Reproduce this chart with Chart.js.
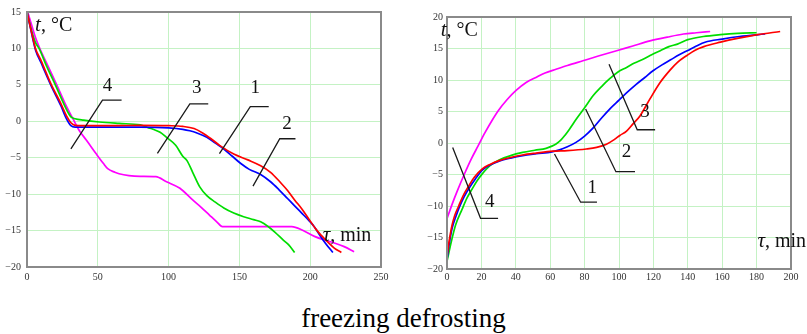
<!DOCTYPE html>
<html><head><meta charset="utf-8">
<script src="https://cdn.jsdelivr.net/npm/chart.js@4.4.0/dist/chart.umd.min.js"></script>
<style>
html,body{margin:0;padding:0;background:#fff;width:807px;height:334px;overflow:hidden;}
#c1{position:absolute;left:0;top:0;}
#c2{position:absolute;left:400px;top:0;}
#cap{position:absolute;left:0;top:302px;width:807px;text-align:center;font-family:"Liberation Serif","Times New Roman",serif;font-size:27px;line-height:32px;color:#000;}
</style></head><body>
<canvas id="c1" width="400" height="300"></canvas>
<canvas id="c2" width="407" height="300"></canvas>
<div id="cap">freezing defrosting</div>
<script>
// ---------- Freezing (left chart) ----------
const freezeTime1 = [0,3,6,10,17,24,28,31,34,40,60,80,100,110,118,124,130,136,146,156,165,172,179,184,189,194,199,204,208,212,217,222];
const freezeTemp1 = [15,12.4,10,8.3,5.1,2.4,0.7,-0.2,-0.55,-0.6,-0.6,-0.55,-0.6,-0.7,-1.0,-1.6,-2.4,-3.3,-4.5,-5.3,-6.1,-7.0,-8.4,-9.5,-10.8,-12.0,-13.4,-14.8,-15.7,-16.5,-17.4,-18.0];
const freezeTime2 = [0,3,6,10,17,24,28,31,34,50,80,100,110,115,120,127,133,139,145,151,157,165,172,178,184,189,194,199,203,207,211,216];
const freezeTemp2 = [15,12.3,9.8,8.0,4.9,2.1,0.3,-0.6,-0.8,-0.8,-0.8,-0.9,-1.1,-1.3,-1.6,-2.2,-3.0,-3.8,-4.8,-5.8,-6.6,-7.3,-8.3,-9.4,-10.6,-11.6,-12.6,-13.6,-14.5,-15.7,-16.8,-18.0];
const freezeTime3 = [0,3,6,8.5,14,20,26,29,31,34,40,51,65,80,86,89,94,98.5,105,110,113,117,122,127,133,139,146,153,160,165,170,175,181,185,189];
const freezeTemp3 = [15,12.6,10.8,10,7.5,5,2.4,1.2,0.6,0.35,0.15,-0.1,-0.3,-0.5,-0.9,-1.1,-1.5,-2.2,-3.3,-4.8,-5.4,-7.0,-9.0,-10.2,-11.1,-11.9,-12.6,-13.1,-13.5,-13.8,-14.4,-15.2,-16.3,-17.0,-18.0];
const freezeTime4 = [0.5,3,6,9,15,21,27,33.4,37,42,49,54,57,62,65,72,80,91,98.5,108,117,123,129,134,138,150,170,187,195,203,210,217,224,231];
const freezeTemp4 = [15,13.4,11.5,10,7.5,5,2.4,0,-1.3,-2.6,-4.5,-5.8,-6.5,-7.0,-7.2,-7.45,-7.55,-7.6,-8.3,-9.2,-10.8,-11.8,-12.9,-13.8,-14.45,-14.45,-14.45,-14.45,-15.0,-15.8,-16.3,-16.7,-17.2,-17.9];
const freezeXTicks = [0,50,100,150,200,250];
const freezeYTicks = [-20,-15,-10,-5,0,5,10,15];

// ---------- Defrosting (right chart) ----------
const thawTime1 = [0,1,2.9,4.5,6.8,9.5,12.7,16,20.5,25,30.3,37,43.9,52,61.5,70,81,87,92.7,97,100.5,104.4,108,112.2,118,123.9,129.8,134,139.5,144,149.3,159,168.8,180.5,193.7];
const thawTemp1 = [-18,-16,-13.1,-11.5,-10,-8.3,-6.8,-5.4,-4.1,-3.4,-2.8,-2.3,-1.9,-1.6,-1.3,-1.2,-0.95,-0.7,-0.2,0.5,1.2,1.9,3.0,4.3,7.0,9.6,11.6,12.8,13.9,14.7,15.3,16.0,16.6,17.2,17.7];
const thawTime2 = [0,1,3,5,7,10,13,16.5,20.5,25,30.3,37,44,52,61,65.4,70,75,80,85,90,95,100,105,110,115,120,125,130,135,140,145,150,160,170,185];
const thawTemp2 = [-18.5,-16.5,-13.5,-11.8,-10.3,-8.5,-7.1,-5.7,-4.3,-3.5,-2.9,-2.4,-2.0,-1.7,-1.4,-1.1,-0.6,0.1,1.1,2.4,4.0,5.5,6.8,8.1,9.3,10.4,11.5,12.4,13.2,14.0,14.7,15.4,16.0,16.5,16.9,17.3];
const thawTime3 = [0,1,2.9,5,8.8,11.5,14.6,17.5,20.5,25,30.3,37,44,51,57.6,61,63.4,66,68.5,71.2,75.2,80,84.9,90,94.6,99,104.4,109,114,119,124,129,134,140,149,159,169,180];
const thawTemp3 = [-18.8,-17.5,-15.2,-13,-10.5,-8.8,-7.3,-6.0,-4.9,-3.6,-2.7,-2.0,-1.5,-1.15,-0.85,-0.5,-0.16,0.4,1.2,2.2,3.8,5.6,7.5,9.0,10.2,11.2,12.0,12.7,13.3,14.0,14.65,15.3,15.7,16.4,16.9,17.2,17.4,17.5];
const thawTime4 = [0,3,6,10,14,18,22,26,30,35,40,46,51.7,57,63.4,70,79,88,98.6,108,118,128,137.5,145,153];
const thawTemp4 = [-12,-9.7,-7.6,-5.0,-2.6,-0.5,1.6,3.5,5.2,6.9,8.3,9.6,10.4,11.1,11.7,12.3,13.05,13.8,14.65,15.4,16.2,16.8,17.3,17.5,17.7];
const thawXTicks = [0,20,40,60,80,100,120,140,160,180,200];
const thawYTicks = [-20,-15,-10,-5,0,5,10,15,20];

const seriesColors = ['#ff0000','#0000ff','#00dd00','#ff00ff'];
const curveNames = ['1','2','3','4'];

// annotation leaders (in data units) for curve numbers
const freezeLabels = [
  {text:'4', at:[56.8,4.9], line:[[31,-3.8],[53.3,2.9],[66.8,2.9]]},
  {text:'3', at:[119.8,4.6], line:[[92.1,-4.4],[115,2.4],[128,2.4]]},
  {text:'1', at:[161.2,4.6], line:[[135.9,-4.45],[157.7,2.0],[170.7,2.0]]},
  {text:'2', at:[183.7,-0.35], line:[[159.6,-8.9],[178.5,-2.4],[189.6,-2.4]]}
];
const thawLabels = [
  {text:'3', at:[115.1,4.9], line:[[94.2,12.5],[110.6,2.1],[121,2.1]]},
  {text:'2', at:[104.4,-1.5], line:[[80.6,5.4],[98.2,-4.55],[109.3,-4.55]]},
  {text:'1', at:[84.5,-7.2], line:[[62.5,-1.75],[77.7,-9.4],[87.2,-9.4]]},
  {text:'4', at:[24.8,-9.3], line:[[3.3,-0.7],[19.5,-11.95],[29.7,-11.95]]}
];

const SERIF = '"Liberation Serif","Times New Roman",serif';

function pts(ts, vs){ return ts.map((t,i)=>({x:t,y:vs[i]})); }
function fmt(v){ return v<0 ? '\u2212'+Math.abs(v) : String(v); }

const decoPlugin = {
  id:'deco',
  afterDatasetsDraw(chart, args, o){
    const {ctx, chartArea:a} = chart;
    const xs = chart.scales.x, ys = chart.scales.y;
    const P = (p)=>[xs.getPixelForValue(p[0]), ys.getPixelForValue(p[1])];
    ctx.save();
    ctx.strokeStyle = '#8a8a8a'; ctx.lineWidth = 2;
    ctx.strokeRect(a.left, a.top, a.right-a.left, a.bottom-a.top);
    ctx.strokeStyle = '#1a1a1a'; ctx.lineWidth = 1.3; ctx.fillStyle = '#111';
    ctx.font = '19px '+SERIF; ctx.textAlign='center'; ctx.textBaseline='middle';
    o.labels.forEach(l=>{
      ctx.beginPath();
      l.line.forEach((p,i)=>{const q=P(p); i?ctx.lineTo(q[0],q[1]):ctx.moveTo(q[0],q[1]);});
      ctx.stroke();
      const q=P(l.at); ctx.fillText(l.text,q[0],q[1]);
    });
    // axis titles
    ctx.textAlign='left'; ctx.textBaseline='alphabetic';
    let q = P(o.yTitleAt);
    ctx.font = 'italic 21px '+SERIF; ctx.fillText('t', q[0], q[1]);
    let w = ctx.measureText('t').width;
    ctx.font = '20px '+SERIF; ctx.fillText(', \u00B0C', q[0]+w, q[1]);
    q = P(o.xTitleAt);
    ctx.font = 'italic 21px '+SERIF; ctx.fillText('\u03C4', q[0], q[1]);
    w = ctx.measureText('\u03C4').width;
    ctx.font = '20px '+SERIF; ctx.fillText(', min', q[0]+w, q[1]);
    ctx.restore();
  }
};

function makeChart(id, sets, xTicks, yTicks, geom, labels, yTitleAt, xTitleAt){
  const datasets = sets.map((s,i)=>({
    label: curveNames[i], data: pts(s[0], s[1]), borderColor: seriesColors[i],
    borderWidth: 1.7, pointRadius: 0, fill:false, cubicInterpolationMode:'monotone'
  }));
  const gridColor = '#c4f2c4';
  return new Chart(document.getElementById(id), {
    type:'line',
    data:{datasets},
    plugins:[decoPlugin],
    options:{
      responsive:false, animation:false, devicePixelRatio:1,
      layout:{padding:{top:geom.top,right:geom.right,left:0,bottom:0}},
      plugins:{legend:{display:false}, tooltip:{enabled:false}, deco:{labels, yTitleAt, xTitleAt}},
      scales:{
        x:{type:'linear', min:xTicks[0], max:xTicks[xTicks.length-1],
           afterBuildTicks:(sc)=>{sc.ticks = xTicks.map(v=>({value:v}));},
           afterFit:(sc)=>{sc.height = geom.xh;},
           grid:{color:gridColor, lineWidth:1, drawTicks:false},
           border:{display:false},
           ticks:{padding:geom.xpad, maxRotation:0, autoSkip:false, color:'#333', font:{family:SERIF,size:10}, callback:fmt}},
        y:{type:'linear', min:yTicks[0], max:yTicks[yTicks.length-1],
           afterBuildTicks:(sc)=>{sc.ticks = yTicks.map(v=>({value:v}));},
           afterFit:(sc)=>{sc.width = geom.yw;},
           grid:{color:gridColor, lineWidth:1, drawTicks:false},
           border:{display:false},
           ticks:{padding:geom.ypad, autoSkip:false, color:'#333', font:{family:SERIF,size:10}, callback:fmt}}
      }
    }
  });
}

makeChart('c1',
  [[freezeTime1,freezeTemp1],[freezeTime2,freezeTemp2],[freezeTime3,freezeTemp3],[freezeTime4,freezeTemp4]],
  freezeXTicks, freezeYTicks,
  {top:9,right:19,xh:33,yw:27,xpad:4,ypad:6},
  freezeLabels, [5.7,12.4], [208.8,-16.4]);

makeChart('c2',
  [[thawTime1,thawTemp1],[thawTime2,thawTemp2],[thawTime3,thawTemp3],[thawTime4,thawTemp4]],
  thawXTicks, thawYTicks,
  {top:17,right:16,xh:31,yw:47,xpad:2,ypad:4},
  thawLabels, [-3.7,17.0], [180.5,-16.5]);
</script>
</body></html>
